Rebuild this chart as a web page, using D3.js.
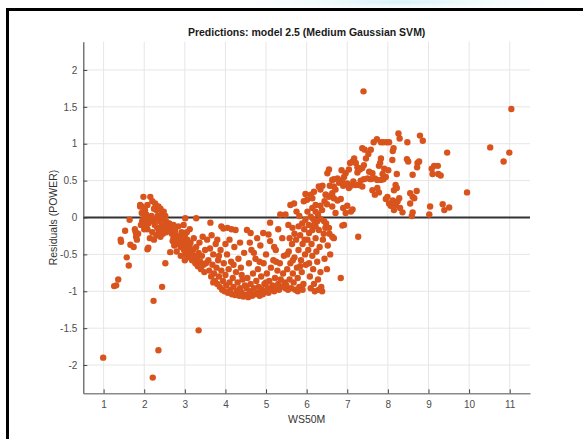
<!DOCTYPE html>
<html><head><meta charset="utf-8">
<script src="https://cdn.jsdelivr.net/npm/d3@7"></script>
<style>body{margin:0;background:#fff}svg{display:block}</style>
</head><body>
<svg id="c" width="583" height="439"></svg>
<script>
const title = "Predictions: model 2.5 (Medium Gaussian SVM)";
const xLabel = "WS50M";
const yLabel = "Residuals (POWER)";
const xTicks = [1,2,3,4,5,6,7,8,9,10,11];
const yTicks = [-2,-1.5,-1,-0.5,0,0.5,1,1.5,2];
const xDomain = [0.5, 11.5];
const yDomain = [-2.383, 2.383];

// residual points [WS50M, residual]
const ptsLow = [
[0.99,-1.90],[1.26,-0.93],[1.31,-0.92],[1.36,-0.84],[1.57,-0.54],[1.62,-0.65],[1.42,-0.30],[1.43,-0.33],[1.53,-0.18],[1.64,-0.03],[1.66,-0.37],[1.74,-0.40],[1.77,-0.16],[1.79,-0.20],[1.80,-0.26],[1.82,-0.30],[1.85,-0.22],[1.90,0.17],[1.94,0.15],[1.95,-0.05],[1.92,-0.10],
[1.98,0.28],[2.15,0.28],[2.27,0.19],[2.35,0.15],[2.48,0.08],[1.90,0.15],[1.94,0.06],[2.05,0.04],[2.02,0.10],[2.08,0.17],[2.20,0.22],[2.24,0.12],[2.30,0.10],[2.40,0.12],[2.43,0.05],[2.06,-0.03],[2.10,-0.08],[2.04,-0.12],[2.08,-0.16],[1.98,-0.02],[2.18,0.02],[2.22,-0.04],[2.28,-0.02],[2.33,0.02],[2.38,-0.05],[2.45,-0.02],[2.52,0.02],[2.55,-0.06],[2.26,-0.10],[2.32,-0.14],[2.36,-0.18],[2.42,-0.12],[2.48,-0.16],[2.50,-0.10],[2.58,-0.12],[2.62,-0.08],[2.30,-0.24],[2.40,-0.26],[2.46,-0.22],[2.54,-0.20],[2.60,-0.18],[2.66,-0.14],[2.20,-0.20],[2.14,-0.28],[2.24,-0.30],[2.10,-0.41],[2.08,-0.43],[2.64,-0.47],[2.52,-0.62],[2.44,-0.94],[2.23,-1.13],[2.35,-1.80],[2.21,-2.17],[1.96,-0.08],[2.00,-0.16],[2.12,-0.06],
[2.68,-0.22],[2.72,-0.28],[2.70,-0.32],[2.76,-0.18],[2.78,-0.24],[2.80,-0.30],[2.82,-0.36],[2.74,-0.38],[2.86,-0.26],[2.88,-0.32],[2.90,-0.40],[2.92,-0.20],[2.84,-0.12],[2.94,-0.30],[2.96,-0.36],[2.98,-0.44],[3.00,-0.24],[3.02,-0.50],[3.04,-0.38],[3.06,-0.30],[3.08,-0.46],[3.10,-0.54],[3.12,-0.40],[3.14,-0.34],[3.16,-0.48],[3.18,-0.58],[3.20,-0.44],[3.22,-0.28],[3.24,-0.52],[3.26,-0.62],[3.28,-0.40],[3.30,-0.56],[3.32,-0.66],[3.34,-0.48],[3.36,-0.34],[3.38,-0.60],[3.40,-0.70],[3.42,-0.52],[3.44,-0.26],[3.46,-0.64],[3.48,-0.74],[3.50,-0.44],[3.01,-0.01],[3.28,-0.01],[2.97,-0.10],[3.12,-0.16],[3.05,-0.20],[3.34,-1.53],[2.80,-0.46],[2.90,-0.52],[3.00,-0.58],[2.72,-0.10]
];
const ptsMid = [
[3.55,-0.30],[3.58,-0.58],[3.60,-0.72],[3.62,-0.42],[3.65,-0.80],[3.68,-0.64],[3.70,-0.50],[3.72,-0.76],[3.74,-0.86],[3.76,-0.36],[3.78,-0.68],[3.80,-0.90],[3.82,-0.58],[3.84,-0.80],[3.86,-0.94],[3.88,-0.44],[3.90,-0.72],[3.92,-0.98],[3.94,-0.86],[3.96,-0.62],[3.98,-1.00],[4.00,-0.78],[4.02,-0.92],[4.04,-0.50],[4.06,-1.02],[4.08,-0.70],[4.10,-0.88],[4.12,-0.98],[4.14,-0.60],[4.16,-1.04],[4.18,-0.82],[4.20,-0.94],[4.22,-0.40],[4.24,-1.05],[4.26,-0.74],[4.28,-1.00],[4.30,-0.88],[4.32,-0.56],[4.34,-1.06],[4.36,-0.96],[4.38,-0.68],[4.40,-1.02],[4.42,-0.84],[4.44,-1.07],[4.46,-0.48],[4.48,-0.92],[3.63,-0.07],[3.90,-0.12],[3.95,-0.15],[4.05,-0.14],[4.15,-0.16],[4.25,-0.17],[3.52,-0.62],[3.66,-0.24],[3.80,-0.30],[4.00,-0.36],[4.10,-0.30],[3.70,-0.88],[3.84,-0.52],[4.20,-0.64],[4.36,-0.34],[4.40,-0.78],
[4.50,-1.05],[4.52,-0.96],[4.54,-0.82],[4.56,-1.08],[4.58,-0.62],[4.60,-1.00],[4.62,-0.90],[4.64,-0.44],[4.66,-1.06],[4.68,-0.76],[4.70,-0.96],[4.72,-1.04],[4.74,-0.56],[4.76,-0.86],[4.78,-1.02],[4.80,-0.70],[4.82,-0.94],[4.84,-1.06],[4.86,-0.38],[4.88,-0.80],[4.90,-0.98],[4.92,-1.04],[4.94,-0.62],[4.96,-0.90],[4.98,-1.00],[5.00,-0.50],[5.02,-0.76],[5.04,-0.96],[5.06,-1.02],[5.08,-0.86],[5.10,-0.32],[5.12,-0.68],[5.14,-0.98],[5.16,-0.92],[5.18,-0.58],[5.20,-1.00],[5.22,-0.82],[5.24,-0.44],[5.26,-0.96],[5.28,-0.72],[5.30,-0.90],[5.32,-0.98],[5.34,-0.62],[5.36,-0.84],[5.38,-0.94],[5.40,-0.28],[5.42,-0.76],[5.44,-0.52],[5.46,-0.88],[5.48,-0.96],[4.53,-0.17],[4.62,-0.21],[4.78,-0.28],[4.93,-0.21],[5.06,-0.23],[5.10,-0.07],[5.35,0.04],[5.48,0.04],[4.70,-0.48],[4.84,-0.60],[5.20,-0.40],[5.30,-0.16],[4.60,-0.34],[5.00,-0.88],[5.25,-0.60],
[5.50,-0.92],[5.52,-0.70],[5.54,-0.98],[5.56,-0.46],[5.58,-0.84],[5.60,-0.62],[5.62,-0.96],[5.64,-0.36],[5.66,-0.76],[5.68,-0.88],[5.70,-0.54],[5.72,-0.98],[5.74,-0.30],[5.76,-0.68],[5.78,-0.82],[5.80,-0.44],[5.82,-0.94],[5.84,-0.24],[5.86,-0.58],[5.88,-0.74],[5.90,-0.36],[5.92,-0.90],[5.94,-0.16],[5.96,-0.50],[5.98,-0.64],[5.60,0.17],[5.69,0.19],[5.75,0.08],[5.82,0.02],[5.89,-0.08],[5.97,-0.03],[5.55,-0.10],[5.65,-0.14],[5.70,-0.22],[5.80,-0.12],[5.58,-0.28],[5.90,-0.98],[5.95,-0.30],[5.52,-0.50],[5.66,-0.58],[5.84,-0.66],[5.78,-1.00]
];
const ptsHigh = [
[6.10,0.01],[6.06,-0.21],[6.14,-0.17],[6.18,-0.10],[6.22,-0.12],[6.26,-0.05],[6.30,-0.17],[6.34,-0.02],[6.43,-0.05],[6.02,0.08],[6.14,0.13],[6.22,0.17],[6.22,0.08],[6.34,0.16],[5.93,0.22],[6.01,0.24],[6.14,0.26],[6.18,0.35],[6.10,0.31],[5.97,0.32],[6.34,0.38],[6.30,0.42],[6.39,0.43],[6.47,0.31],
[6.02,-0.30],[6.04,-0.44],[6.06,-0.62],[6.08,-0.80],[6.10,-0.96],[6.12,-0.36],[6.14,-0.52],[6.16,-0.70],[6.18,-0.90],[6.20,-1.00],[6.22,-0.28],[6.24,-0.46],[6.26,-0.60],[6.28,-0.84],[6.30,-0.98],[6.32,-0.40],[6.34,-0.74],[6.36,-0.94],[6.38,-1.00],[6.40,-0.30],[6.42,-0.22],[6.44,-0.56],[6.46,-0.14],[6.48,-0.08],[6.05,-0.10],[6.16,-0.02],[6.28,0.04],[6.38,0.10],[6.44,0.22],[6.50,0.18],
[6.55,0.65],[6.51,0.60],[6.57,0.43],[6.67,0.42],[6.80,0.47],[6.90,0.43],[7.00,0.46],[7.09,0.43],[7.04,0.40],[7.04,0.65],[6.96,0.60],[6.92,0.55],[6.86,0.64],[6.88,0.51],[6.76,0.53],[6.67,0.52],[6.63,0.51],[6.71,0.38],[6.63,0.33],[6.55,0.28],[6.47,0.31],[6.67,0.26],[6.76,0.23],[6.84,0.25],[6.63,0.15],[6.71,0.06],[6.90,0.13],[6.96,0.06],[7.09,0.08],[7.13,0.11],[7.00,0.16],[6.88,-0.11],[6.92,-0.10],[7.27,-0.26],[6.55,-0.14],[6.63,-0.26],[6.67,-0.28],[6.84,-0.82],[7.17,0.80],[7.13,0.76],[7.07,0.74],[7.21,0.74],[7.25,0.68],[7.31,0.65],[7.25,0.61],[7.41,0.71],[7.37,0.67],[7.54,0.62],[7.50,0.53],[7.41,0.52],[7.33,0.50],[7.29,0.44],[7.37,0.42],[7.21,0.44],[7.15,0.49],[7.37,0.94],[7.43,0.92],[7.40,1.71],[6.52,-0.38],[6.58,-0.50],[6.50,-0.70],[6.56,-0.22],
[7.97,1.02],[7.89,1.02],[7.83,1.02],[7.73,1.06],[7.65,1.02],[8.03,1.02],[7.83,0.80],[7.81,0.74],[7.78,0.70],[7.91,0.66],[8.01,0.64],[7.87,0.59],[7.95,0.55],[7.89,0.52],[7.83,0.51],[7.74,0.51],[7.68,0.53],[7.62,0.60],[7.58,0.52],[7.74,0.40],[7.68,0.31],[7.62,0.37],[7.78,0.34],[8.26,1.14],[8.29,1.07],[8.14,0.94],[8.12,0.90],[8.11,0.78],[8.22,0.59],[8.19,0.44],[8.22,0.40],[8.15,0.37],[8.28,0.26],[8.24,0.22],[8.20,0.17],[8.30,0.13],[8.12,0.23],[7.99,0.28],[7.95,0.25],[8.03,0.19],[8.07,0.16],[8.15,0.10],[8.36,0.07],[8.48,1.02],[8.47,0.79],[8.50,0.76],[7.52,0.86],[7.58,0.92],[7.46,0.80],
[8.79,1.11],[8.86,1.04],[8.73,0.74],[8.77,0.76],[8.72,0.68],[8.61,0.58],[8.71,0.36],[8.55,0.33],[8.61,0.28],[8.65,0.26],[8.55,0.19],[8.61,0.07],[8.59,0.02],[9.14,0.70],[9.23,0.70],[9.08,0.66],[9.10,0.59],[9.24,0.59],[9.30,0.57],[9.04,0.15],[9.02,0.04],[9.51,0.135],[9.39,0.10],[9.35,0.18],[9.46,0.88],
[9.95,0.34],[10.52,0.95],[10.99,0.88],[10.85,0.76],[11.04,1.47]
];
const points = ptsLow.concat(ptsMid, ptsHigh);

const svg = d3.select("#c");
const W = 583, H = 439;
const m = {l: 83.3, r: 530, t: 41.7, b: 393.3};
const x = d3.scaleLinear().domain(xDomain).range([m.l, m.r]);
const y = d3.scaleLinear().domain(yDomain).range([m.b, m.t]);

// faint background tint at the very top
const defs = svg.append("defs");
const rg = defs.append("radialGradient").attr("id","tint").attr("cx","0.5").attr("cy","0.5").attr("r","0.5");
rg.append("stop").attr("offset","0").attr("stop-color","#d6f2f6");
rg.append("stop").attr("offset","1").attr("stop-color","#ffffff").attr("stop-opacity",0);
svg.append("ellipse").attr("cx",400).attr("cy",2).attr("rx",200).attr("ry",10).attr("fill","url(#tint)");

// outer frame (left and top)
svg.append("path").attr("d",`M7.5,${H} L7.5,9.5 L${W},9.5`).attr("fill","none").attr("stroke","#000").attr("stroke-width",3);

// grid
const g = svg.append("g");
g.selectAll("line.vg").data(xTicks).join("line")
  .attr("x1",d=>x(d)).attr("x2",d=>x(d)).attr("y1",m.t).attr("y2",m.b)
  .attr("stroke","#e6e6e6").attr("stroke-width",1);
g.selectAll("line.hg").data(yTicks).join("line")
  .attr("y1",d=>y(d)).attr("y2",d=>y(d)).attr("x1",m.l).attr("x2",m.r)
  .attr("stroke","#e6e6e6").attr("stroke-width",1);

// zero line
svg.append("line").attr("x1",m.l).attr("x2",m.r).attr("y1",y(0)).attr("y2",y(0))
  .attr("stroke","#333").attr("stroke-width",2);

// axes
const xAxis = d3.axisBottom(x).tickValues(xTicks).tickFormat(d3.format("d")).tickSizeInner(-4).tickSizeOuter(0).tickPadding(8);
const yAxis = d3.axisLeft(y).tickValues(yTicks).tickFormat(d=>String(d)).tickSizeInner(-4).tickSizeOuter(0).tickPadding(6);
const gx = svg.append("g").attr("transform",`translate(0,${m.b})`).call(xAxis);
const gy = svg.append("g").attr("transform",`translate(${m.l},0)`).call(yAxis);
gx.select(".domain").attr("stroke","#8a8a8a").attr("stroke-width",1.5);
gy.select(".domain").attr("stroke","#555").attr("stroke-width",1.2);
[gx,gy].forEach(a=>{
  a.selectAll(".tick line").attr("stroke","#444");
  a.selectAll(".tick text").attr("fill","#4d4d4d").style("font-family","'Liberation Sans', Arial, sans-serif").style("font-size","10px");
});

// points
svg.append("g").selectAll("circle").data(points).join("circle")
  .attr("cx",d=>x(d[0])).attr("cy",d=>y(d[1])).attr("r",3.2)
  .attr("fill","#d9541c");

// texts
svg.append("text").attr("x",(m.l+m.r)/2).attr("y",36).attr("text-anchor","middle")
  .style("font-family","'Liberation Sans', Arial, sans-serif").style("font-size","10.5px").style("font-weight","bold")
  .attr("fill","#1a1a1a").text(title);
svg.append("text").attr("x",(m.l+m.r)/2).attr("y",423).attr("text-anchor","middle")
  .style("font-family","'Liberation Sans', Arial, sans-serif").style("font-size","10.5px")
  .attr("fill","#333").text(xLabel);
svg.append("text").attr("transform",`translate(57,${(m.t+m.b)/2}) rotate(-90)`).attr("text-anchor","middle")
  .style("font-family","'Liberation Sans', Arial, sans-serif").style("font-size","10.5px")
  .attr("fill","#333").text(yLabel);
</script>
</body></html>
